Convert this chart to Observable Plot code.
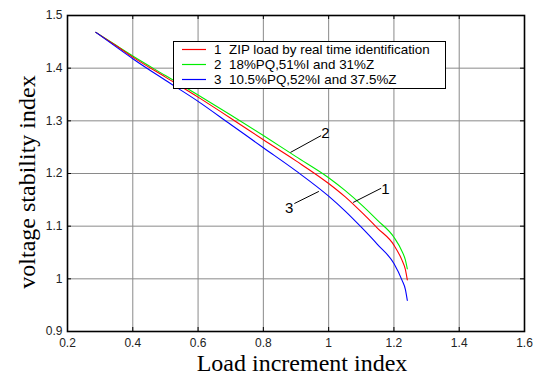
<!DOCTYPE html>
<html><head><meta charset="utf-8">
<script src="https://cdn.jsdelivr.net/npm/d3@7"></script>
<script src="https://cdn.jsdelivr.net/npm/@observablehq/plot@0.6"></script>
<style>
body{margin:0;background:#fff;}
#wrap{position:relative;width:539px;height:376px;}
#legend{position:absolute;left:173px;top:41px;width:271px;height:46px;border:1.5px solid #000;background:#fff;font-family:"Liberation Sans",Arial,sans-serif;font-size:13.4px;color:#000;}
.row{position:absolute;left:0;height:15px;line-height:15px;white-space:nowrap;}
.sw{position:absolute;left:8px;top:6px;width:24px;height:3px;display:block;}
.num{position:absolute;left:40px;}
.lab{position:absolute;left:55px;}
.title{position:absolute;font-family:"Liberation Serif","Times New Roman",serif;font-size:24px;line-height:24px;white-space:nowrap;color:#000;transform-origin:50% 50%;}
</style></head><body><div id="wrap"></div>
<script>
const xVals = [0.287, 0.35, 0.4, 0.5, 0.6, 0.7, 0.8, 0.9, 1.0, 1.05, 1.1, 1.15, 1.2, 1.225, 1.235, 1.241];
const redVals = [1.468, 1.442, 1.421, 1.383, 1.345, 1.305, 1.264, 1.224, 1.181, 1.156, 1.127, 1.096, 1.064, 1.035, 1.018, 0.998];
const greenVals = [1.468, 1.443, 1.423, 1.386, 1.349, 1.311, 1.272, 1.232, 1.192, 1.168, 1.141, 1.111, 1.079, 1.052, 1.036, 1.019];
const blueVals = [1.468, 1.440, 1.418, 1.377, 1.337, 1.293, 1.249, 1.205, 1.157, 1.129, 1.098, 1.065, 1.029, 0.997, 0.980, 0.959];
const seriesNums = ["1", "2", "3"];
const seriesNames = ["ZIP load by real time identification", "18%PQ,51%I and 31%Z", "10.5%PQ,52%I and 37.5%Z"];
const seriesColors = ["#ff0000", "#00ee00", "#0000ff"];
const xTicks = [0.2, 0.4, 0.6, 0.8, 1, 1.2, 1.4, 1.6];
const yTicks = [0.9, 1, 1.1, 1.2, 1.3, 1.4, 1.5];
const xTitle = "Load increment index";
const yTitle = "voltage stability index";
// annotation labels and leader lines (data coordinates)
const annLabels = ["2", "1", "3"];
const annTextX = [0.990, 1.174, 0.879];
const annTextY = [1.277, 1.170, 1.134];
const annX1 = [0.977, 1.161, 0.895];
const annY1 = [1.272, 1.172, 1.143];
const annX2 = [0.883, 1.075, 0.970];
const annY2 = [1.240, 1.145, 1.166];

const W = 539, H = 376, mL = 67, mR = 15, mT = 15, mB = 45;
const plotW = W - mL - mR, plotH = H - mT - mB;

const valsBySeries = [redVals, greenVals, blueVals];
const rows = [];
valsBySeries.forEach((vals, s) => vals.forEach((v, i) => rows.push({x: xVals[i], y: v, s})));
const ann = annLabels.map((t, i) => ({t, x: annTextX[i], y: annTextY[i], x1: annX1[i], y1: annY1[i], x2: annX2[i], y2: annY2[i]}));

const drawOrder = [1, 0, 2];
const chart = Plot.plot({
  width: W, height: H,
  marginLeft: mL, marginRight: mR, marginTop: mT, marginBottom: mB,
  style: {fontFamily: "'Liberation Sans', Arial, sans-serif", fontSize: "12px", color: "#222", background: "#fff"},
  x: {domain: [0.2, 1.6], ticks: xTicks, tickSize: 0, tickPadding: 7, tickFormat: d => String(d), label: null},
  y: {domain: [0.9, 1.5], ticks: yTicks, tickSize: 0, tickPadding: 5, tickFormat: d => String(d), label: null},
  marks: [
    Plot.ruleX(xTicks, {x: d => d, stroke: "#8a8a8a", strokeWidth: 1}),
    Plot.ruleY(yTicks, {y: d => d, stroke: "#8a8a8a", strokeWidth: 1}),
    Plot.tickX(xTicks, {x: d => d, insetTop: plotH - 4, stroke: "#000"}),
    Plot.tickX(xTicks, {x: d => d, insetBottom: plotH - 4, stroke: "#000"}),
    Plot.tickY(yTicks, {y: d => d, insetRight: plotW - 4, stroke: "#000"}),
    Plot.tickY(yTicks, {y: d => d, insetLeft: plotW - 4, stroke: "#000"}),
    ...drawOrder.map(s => Plot.line(rows.filter(r => r.s === s), {x: "x", y: "y", stroke: seriesColors[s], strokeWidth: 1.1, curve: "monotone-x"})),
    Plot.link(ann, {x1: "x1", y1: "y1", x2: "x2", y2: "y2", stroke: "#000", strokeWidth: 1}),
    Plot.text(ann, {x: "x", y: "y", text: "t", fontSize: 15, fill: "#000"}),
    Plot.frame({stroke: "#000", strokeWidth: 1.6})
  ]
});
const wrap = document.getElementById("wrap");
wrap.appendChild(chart);

// axis titles
const xt = document.createElement("div");
xt.className = "title"; xt.textContent = xTitle;
xt.style.left = "302px"; xt.style.top = "363px";
xt.style.transform = "translate(-50%,-50%)";
wrap.appendChild(xt);
const yt = document.createElement("div");
yt.className = "title"; yt.textContent = yTitle;
yt.style.left = "27px"; yt.style.top = "182px";
yt.style.transform = "translate(-50%,-50%) rotate(-90deg)";
wrap.appendChild(yt);

// legend
const NS = "http://www.w3.org/2000/svg";
const leg = document.createElement("div");
leg.id = "legend";
seriesNames.forEach((name, i) => {
  const r = document.createElement("div");
  r.className = "row";
  r.style.top = (i * 15) + "px";
  r.style.width = "100%";
  const sw = document.createElementNS(NS, "svg");
  sw.setAttribute("class", "sw");
  sw.setAttribute("width", "24"); sw.setAttribute("height", "3");
  const ln = document.createElementNS(NS, "line");
  ln.setAttribute("x1", "0"); ln.setAttribute("x2", "24");
  ln.setAttribute("y1", "1.5"); ln.setAttribute("y2", "1.5");
  ln.setAttribute("stroke", seriesColors[i]); ln.setAttribute("stroke-width", "1.2");
  sw.appendChild(ln);
  const n = document.createElement("span"); n.className = "num"; n.textContent = seriesNums[i];
  const l = document.createElement("span"); l.className = "lab"; l.textContent = name;
  r.append(sw, n, l);
  leg.appendChild(r);
});
wrap.appendChild(leg);
</script>
</body></html>
